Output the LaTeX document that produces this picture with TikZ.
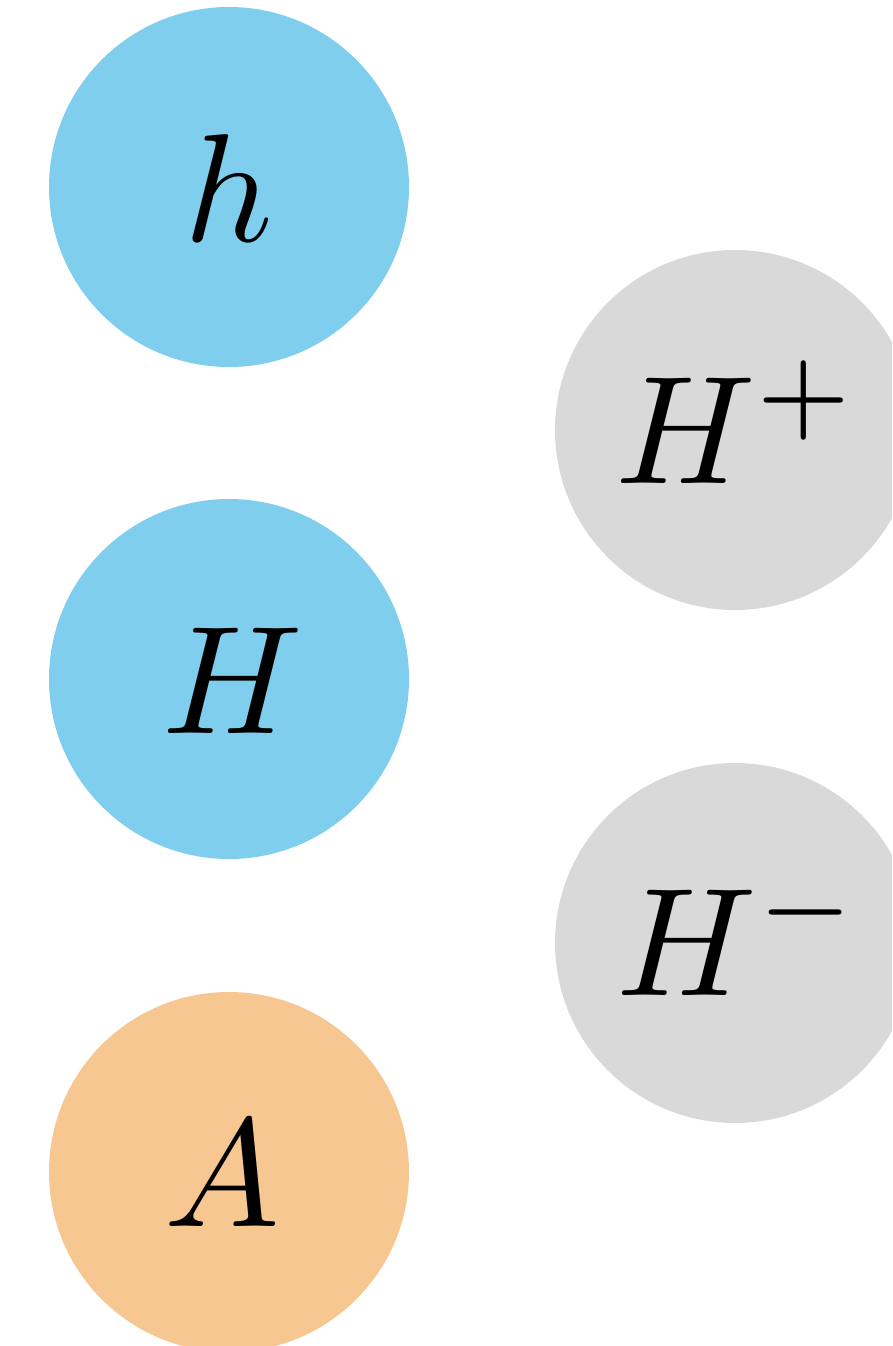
\documentclass[tikz,border=0pt]{standalone}
\definecolor{hblue}{HTML}{80CEEE}
\definecolor{hgrey}{HTML}{D9D9D9}
\definecolor{horange}{HTML}{F6C791}
\newcommand{\bigsym}[1]{\scalebox{15.4}{$#1$}}
\begin{document}
\begin{tikzpicture}[x=1pt,y=-1pt,
  ball/.style={circle,minimum size=360pt,inner sep=0pt,draw=none},
  lab/.style={anchor=base,inner sep=0pt}]
\useasboundingbox (0,0) rectangle (892,1346);
\clip (0,0) rectangle (892,1346);
\node[ball,fill=hblue] (ch) at (229,187) {};
\node[ball,fill=hblue] (cH) at (229,679) {};
\node[ball,fill=horange] (cA) at (229,1172) {};
\node[ball,fill=hgrey] (cHp) at (735,430) {};
\node[ball,fill=hgrey] (cHm) at (735,943) {};
\node[lab] (th) at (229,241) {\bigsym{h}};
\node[lab] (tH) at (233,733) {\bigsym{H}};
\node[lab] (tA) at (222,1226) {\bigsym{A}};
\node[lab] (tHp) at (737,483) {\bigsym{H^{+}}};
\node[lab] (tHm) at (739,995) {\bigsym{H^{-}}};
\end{tikzpicture}
\end{document}
